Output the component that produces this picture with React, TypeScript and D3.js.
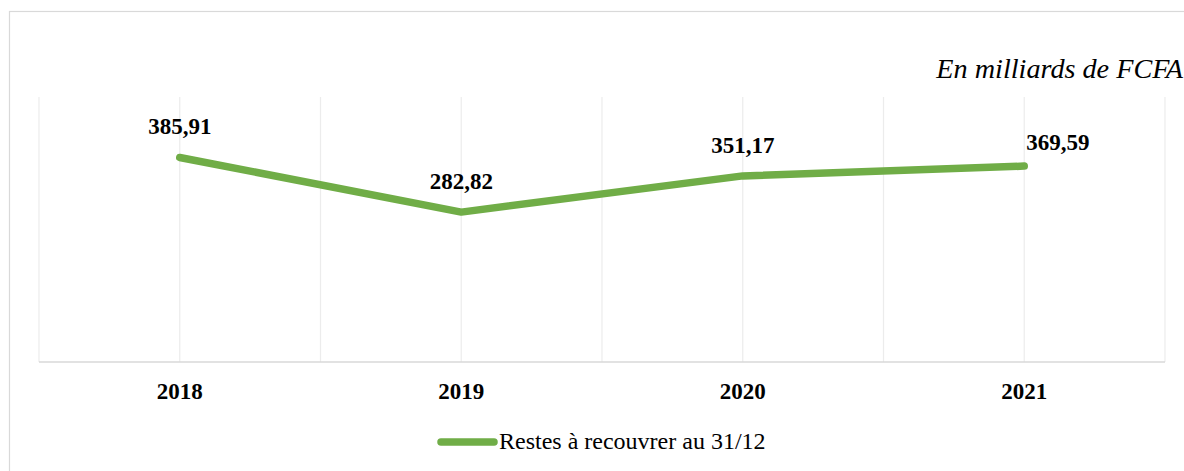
import React from "react";
import * as d3 from "d3";

const years = ["2018", "2019", "2020", "2021"];
const values = [385.91, 282.82, 351.17, 369.59];
const valueLabels = ["385,91", "282,82", "351,17", "369,59"];
const seriesName = "Restes à recouvrer au 31/12";
const unitNote = "En milliards de FCFA";
const yDomain = [0, 500];

const W = 1184;
const H = 471;
const margin = { left: 39, right: 1165, top: 97, bottom: 362 };
const GREEN = "#70AD47";
const FONT = "'Liberation Serif', 'Times New Roman', serif";

export default function App() {
  const x = d3.scaleBand<string>().domain(years).range([margin.left, margin.right]).padding(0);
  const y = d3.scaleLinear().domain(yDomain).range([margin.bottom, margin.top]);
  const cx = (d: string) => (x(d) as number) + x.bandwidth() / 2;

  const gridXs: number[] = [];
  years.forEach((d) => {
    gridXs.push(x(d) as number);
    gridXs.push(cx(d));
  });
  gridXs.push(margin.right);

  const line = d3
    .line<number>()
    .x((_, i) => cx(years[i]))
    .y((v) => y(v));

  return (
    <svg
      width={W}
      height={H}
      style={{ position: "absolute", left: 0, top: 0, background: "#fff" }}
      fontFamily={FONT}
    >
      <rect x={9.5} y={11.5} width={1200} height={500} fill="#fff" stroke="#d9d9d9" strokeWidth={1.2} />
      <text x={1183} y={78} textAnchor="end" fontStyle="italic" fontSize={28.2} fill="#000">
        {unitNote}
      </text>
      {gridXs.map((gx, i) => (
        <line key={i} x1={gx} x2={gx} y1={margin.top} y2={margin.bottom} stroke="#ececec" strokeWidth={1.2} />
      ))}
      <line x1={margin.left} x2={margin.right} y1={margin.bottom} y2={margin.bottom} stroke="#d9d9d9" strokeWidth={1.5} />
      <path d={line(values) || ""} fill="none" stroke={GREEN} strokeWidth={7.5} strokeLinecap="round" strokeLinejoin="round" />
      {values.map((v, i) => {
        const last = i === values.length - 1;
        return (
          <text
            key={i}
            x={last ? cx(years[i]) + 2 : cx(years[i])}
            y={last ? y(v) - 16 : y(v) - 23}
            textAnchor={last ? "start" : "middle"}
            fontWeight="bold"
            fontSize={23}
            fill="#000"
          >
            {valueLabels[i]}
          </text>
        );
      })}
      {years.map((d) => (
        <text key={d} x={cx(d)} y={399} textAnchor="middle" fontWeight="bold" fontSize={23} fill="#000">
          {d}
        </text>
      ))}
      <line x1={441} x2={494} y1={442} y2={442} stroke={GREEN} strokeWidth={7.5} strokeLinecap="round" />
      <text x={499} y={449} fontSize={24} fill="#000">
        {seriesName}
      </text>
    </svg>
  );
}
